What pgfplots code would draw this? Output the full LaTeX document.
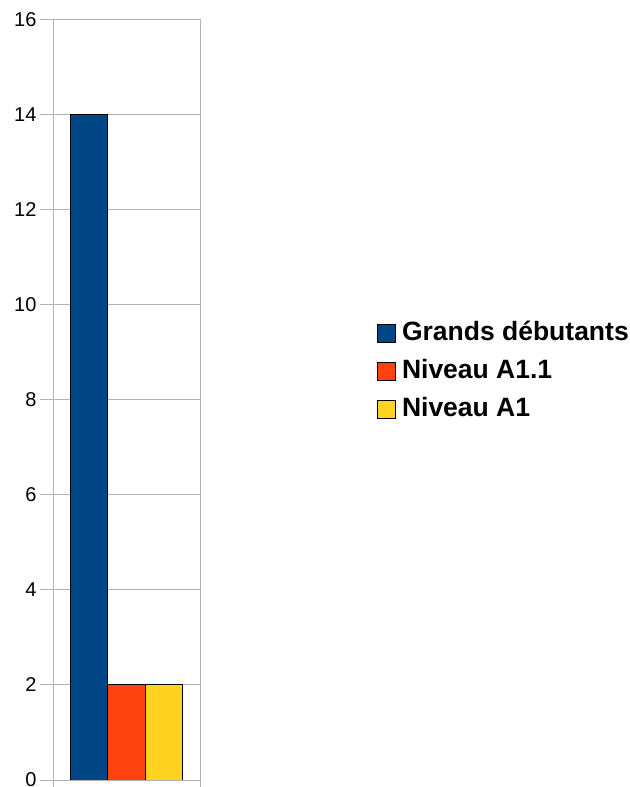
\documentclass[border=0pt]{standalone}
\usepackage{pgfplots}
\pgfplotsset{compat=1.18}
\usepackage{fontspec}
\setmainfont{Liberation Sans}
\definecolor{cblue}{HTML}{004586}
\definecolor{cred}{HTML}{FF420E}
\definecolor{cyellow}{HTML}{FFD320}
\definecolor{gridgray}{HTML}{B3B3B3}
\pgfplotsset{sqlegend/.style={legend image code/.code={\draw[##1,line width=1bp] (0bp,-9bp) rectangle (18bp,9bp);}}}
\begin{document}
\begin{tikzpicture}
\useasboundingbox (0bp,0bp) rectangle (630bp,787bp);
\begin{axis}[
  at={(53bp,7bp)}, anchor=south west,
  scale only axis, width=147bp, height=760bp,
  xmin=-0.5, xmax=0.5, ymin=0, ymax=16,
  ytick={0,2,...,16}, xtick={-0.5,0.5}, xticklabels={},
  ytick pos=left, xtick pos=bottom,
  ymajorgrids, grid style={color=gridgray, line width=1bp},
  axis line style={gridgray, line width=1bp},
  tick style={gridgray, line width=1bp},
  tick align=outside, major tick length=13bp,
  /pgf/number format/assume math mode=true,
  ticklabel style={font=\fontsize{20bp}{24bp}\selectfont, text=black},
  ybar, bar width=0.252,
  legend style={at={(2.2041,0.6033)}, anchor=north west, draw=none, fill=none,
    inner sep=0pt, outer sep=0pt,
    font=\bfseries\fontsize{26.5bp}{30bp}\selectfont,
    nodes={inner sep=0pt, text height=19bp, text depth=5bp},
    row sep=14bp, column sep=6bp},
  legend cell align=left,
]
\addplot[draw=black, line width=1bp, fill=cblue, bar shift=-0.252, sqlegend] coordinates {(0,14)};
\addplot[draw=black, line width=1bp, fill=cred, bar shift=0, sqlegend] coordinates {(0,2)};
\addplot[draw=black, line width=1bp, fill=cyellow, bar shift=0.252, sqlegend] coordinates {(0,2)};
\legend{Grands débutants, Niveau A1.1, Niveau A1}
\end{axis}
\end{tikzpicture}
\end{document}
